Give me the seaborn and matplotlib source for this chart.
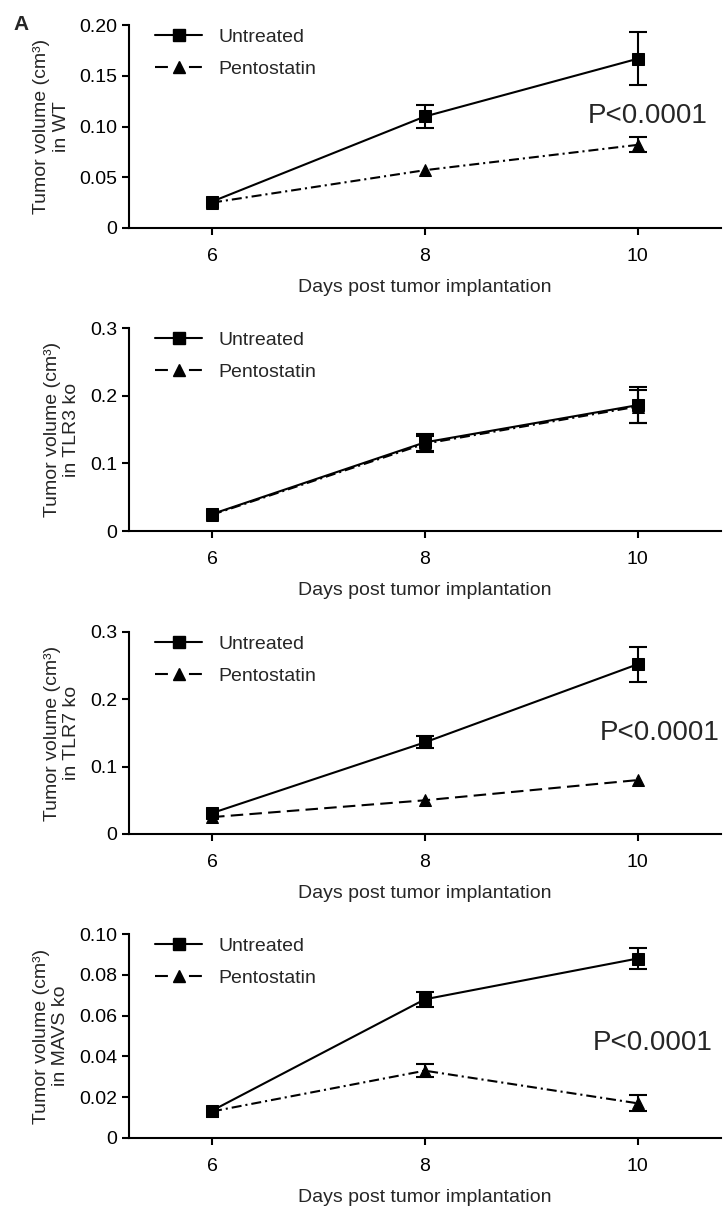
import matplotlib
matplotlib.use("Agg")
import matplotlib.pyplot as plt
from matplotlib.lines import Line2D
import seaborn as sns

# days post implantation
days = [6, 8, 10]

# WT
wt_untreated = [0.026, 0.110, 0.167]
wt_untreated_sem = [0, 0.011, 0.026]
wt_pento = [0.025, 0.057, 0.082]
wt_pento_sem = [0, 0, 0.0075]

# TLR3 ko
tlr3_untreated = [0.025, 0.131, 0.186]
tlr3_untreated_sem = [0, 0.013, 0.027]
tlr3_pento = [0.024, 0.129, 0.184]
tlr3_pento_sem = [0, 0.012, 0.025]

# TLR7 ko
tlr7_untreated = [0.031, 0.136, 0.252]
tlr7_untreated_sem = [0, 0.009, 0.026]
tlr7_pento = [0.025, 0.050, 0.080]
tlr7_pento_sem = [0, 0, 0]

# MAVS ko
mavs_untreated = [0.0134, 0.068, 0.088]
mavs_untreated_sem = [0, 0.0036, 0.005]
mavs_pento = [0.013, 0.033, 0.017]
mavs_pento_sem = [0, 0.0033, 0.004]

wt_ticks = [0, 0.05, 0.10, 0.15, 0.20]
wt_ticklabels = ["0", "0.05", "0.10", "0.15", "0.20"]
tlr_ticks = [0, 0.1, 0.2, 0.3]
tlr_ticklabels = ["0", "0.1", "0.2", "0.3"]
mavs_ticks = [0, 0.02, 0.04, 0.06, 0.08, 0.10]
mavs_ticklabels = ["0", "0.02", "0.04", "0.06", "0.08", "0.10"]

DASHDOT = (0, (4.8, 1.9, 1.0, 1.9))
DASHED = (0, (6, 3))


def set_styling():
    sns.set_style("ticks")
    plt.rcParams['font.family'] = ['Liberation Sans', 'DejaVu Sans']
    plt.rcParams['font.size'] = 14
    plt.rcParams['axes.linewidth'] = 1.5
    plt.rcParams['xtick.major.width'] = 1.5
    plt.rcParams['ytick.major.width'] = 1.5
    plt.rcParams['xtick.major.size'] = 5
    plt.rcParams['ytick.major.size'] = 5
    plt.rcParams['xtick.color'] = 'black'
    plt.rcParams['ytick.color'] = 'black'
    plt.rcParams['axes.edgecolor'] = 'black'


def add_errorbars(ax, values, sem):
    # only where the bar sticks out of the marker
    xs = [d for d, s in zip(days, sem) if s > 0]
    ys = [v for v, s in zip(values, sem) if s > 0]
    es = [s for s in sem if s > 0]
    if xs:
        ax.errorbar(xs, ys, yerr=es, fmt='none', ecolor='black',
                    elinewidth=1.5, capsize=6.5, capthick=1.5, zorder=2)


def draw_panel(ax, untreated, untreated_sem, pento, pento_sem, pento_ls,
               ylim, ticks, ticklabels, ylabel, ptext=None):
    sns.lineplot(x=days, y=pento, ax=ax, color='black', lw=1.5,
                 linestyle=pento_ls, marker='^', markersize=9,
                 markeredgecolor='black', errorbar=None, zorder=3)
    add_errorbars(ax, pento, pento_sem)
    sns.lineplot(x=days, y=untreated, ax=ax, color='black', lw=1.5,
                 linestyle='-', marker='s', markersize=8.6,
                 markeredgecolor='black', errorbar=None, zorder=4)
    add_errorbars(ax, untreated, untreated_sem)

    ax.set_xlim(5.22, 10.78)
    ax.set_ylim(*ylim)
    ax.set_xticks(days)
    ax.set_xticklabels([str(d) for d in days])
    ax.set_yticks(ticks)
    ax.set_yticklabels(ticklabels)
    ax.tick_params(axis='x', pad=9.5, labelsize=14)
    ax.tick_params(axis='y', pad=3.5, labelsize=14)
    ax.set_xlabel('Days post tumor implantation', fontsize=14, labelpad=10)
    ax.set_ylabel(ylabel, fontsize=14, labelpad=7, linespacing=1.2)
    sns.despine(ax=ax)

    handles = [
        Line2D([], [], color='black', lw=1.5, marker='s', markersize=8.6),
        Line2D([], [], color='black', lw=1.5, linestyle=(0, (6.2, 10.1)),
               marker='^', markersize=8),
    ]
    ax.legend(handles, ['Untreated', 'Pentostatin'], loc='upper left',
              bbox_to_anchor=(0.044, 0.985), frameon=False, borderpad=0,
              borderaxespad=0, handlelength=2.42, handletextpad=0.82,
              labelspacing=0.75, fontsize=14)

    if ptext is not None:
        ax.text(ptext[0], ptext[1], 'P<0.0001', fontsize=20,
                ha='left', va='baseline')


set_styling()
fig = plt.figure(figsize=(7.25, 12.06), dpi=100)

left, width = 0.178, 0.816
ax1 = fig.add_axes([left, 0.811, width, 0.168])
ax2 = fig.add_axes([left, 0.5597, width, 0.1683])
ax3 = fig.add_axes([left, 0.3085, width, 0.1675])
ax4 = fig.add_axes([left, 0.0564, width, 0.1691])

draw_panel(ax1, wt_untreated, wt_untreated_sem, wt_pento, wt_pento_sem,
           DASHDOT, (0, 0.2), wt_ticks, wt_ticklabels,
           'Tumor volume (cm³)\nin WT', ptext=(9.53, 0.1039))
draw_panel(ax2, tlr3_untreated, tlr3_untreated_sem, tlr3_pento,
           tlr3_pento_sem, DASHDOT, (0, 0.3), tlr_ticks, tlr_ticklabels,
           'Tumor volume (cm³)\nin TLR3 ko')
draw_panel(ax3, tlr7_untreated, tlr7_untreated_sem, tlr7_pento,
           tlr7_pento_sem, DASHED, (0, 0.3), tlr_ticks, tlr_ticklabels,
           'Tumor volume (cm³)\nin TLR7 ko', ptext=(9.64, 0.1397))
draw_panel(ax4, mavs_untreated, mavs_untreated_sem, mavs_pento,
           mavs_pento_sem, DASHDOT, (0, 0.1), mavs_ticks, mavs_ticklabels,
           'Tumor volume (cm³)\nin MAVS ko', ptext=(9.58, 0.0431))

fig.text(0.018, 0.9876, 'A', fontsize=15, fontweight='bold',
         ha='left', va='top')

fig.savefig('out.png', dpi=100)
